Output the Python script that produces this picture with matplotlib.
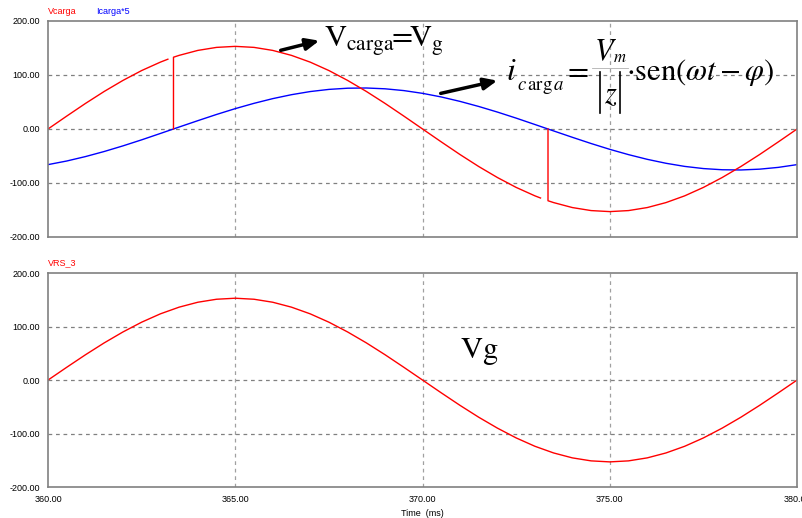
import numpy as np
import matplotlib
matplotlib.use("Agg")
import matplotlib.pyplot as plt
from matplotlib.lines import Line2D

plt.rcParams['font.family'] = ['Liberation Sans', 'DejaVu Sans']
plt.rcParams['mathtext.fontset'] = 'stix'

# tiempo (ms), paso de 0.5 ms
t = [360.0 + 0.5 * k for k in range(41)]

# tension de red Vg (VRS_3)
vg = [0.0, 23.9, 47.3, 69.5, 89.9, 108.2, 123.8, 136.3, 145.5, 151.1, 153.0,
      151.1, 145.5, 136.3, 123.8, 108.2, 89.9, 69.5, 47.3, 23.9, 0.0,
      -23.9, -47.3, -69.5, -89.9, -108.2, -123.8, -136.3, -145.5, -151.1, -153.0,
      -151.1, -145.5, -136.3, -123.8, -108.2, -89.9, -69.5, -47.3, -23.9, 0.0]

# corriente de carga * 5
icarga = [-66.0, -59.3, -51.1, -41.7, -31.3, -20.1, -8.3, 3.6, 15.4, 26.9, 37.7,
          47.5, 56.2, 63.5, 69.3, 73.3, 75.5, 75.9, 74.4, 71.1, 66.0,
          59.3, 51.1, 41.7, 31.3, 20.1, 8.3, -3.6, -15.4, -26.9, -37.7,
          -47.5, -56.2, -63.5, -69.3, -73.3, -75.5, -75.9, -74.4, -71.1, -66.0]

# tension de carga: sigue a Vg con cortes en el paso por cero de la corriente
t_carga = ([360.0 + 0.5 * k for k in range(7)] + [363.2, np.nan, 363.35, 363.35]
           + [363.5 + 0.5 * k for k in range(20)] + [373.15, np.nan, 373.35, 373.35]
           + [373.5 + 0.5 * k for k in range(14)])
vcarga = ([0.0, 23.9, 47.3, 69.5, 89.9, 108.2, 123.8, 129.2, np.nan, 0.0, 132.9]
          + [136.3, 145.5, 151.1, 153.0, 151.1, 145.5, 136.3, 123.8, 108.2, 89.9,
             69.5, 47.3, 23.9, 0.0, -23.9, -47.3, -69.5, -89.9, -108.2, -123.8]
          + [-127.8, np.nan, 0.0, -132.9]
          + [-136.3, -145.5, -151.1, -153.0, -151.1, -145.5, -136.3, -123.8,
             -108.2, -89.9, -69.5, -47.3, -23.9, 0.0])

yticks = [-200, -100, 0, 100, 200]
xticks = [360, 365, 370, 375, 380]

W, H = 803, 518

fig = plt.figure(figsize=(8.03, 5.18), dpi=100)
ax1 = fig.add_axes([0.0598, 0.5425, 0.9328, 0.417])
ax2 = fig.add_axes([0.0598, 0.0598, 0.9328, 0.413])

for ax in (ax1, ax2):
    ax.set_xlim(360, 380)
    ax.set_ylim(-200, 200)
    ax.set_xticks(xticks)
    ax.set_yticks(yticks)
    ax.set_yticklabels(["%.2f" % v for v in yticks], fontsize=6.5)
    ax.tick_params(length=0, pad=6)
    for s in ax.spines.values():
        s.set_color("#808080")
        s.set_linewidth(1.2)
    for y in [-100, 0, 100]:
        ax.axhline(y, color="#808080", lw=0.9, ls=(0, (3, 3)), zorder=0)
    for x in [365, 370, 375]:
        ax.axvline(x, color="#a0a0a0", lw=0.9, ls=(0, (3, 3)), zorder=0)

ax1.set_xticklabels([])
ax2.set_xticklabels(["%.2f" % v for v in xticks], fontsize=6.5)
ax2.set_xlabel("Time  (ms)", fontsize=6.5, labelpad=3)

ax1.plot(t, icarga, color="blue", lw=1)
ax1.plot(t_carga, vcarga, color="red", lw=1)
ax2.plot(t, vg, color="red", lw=1)

fig.text(48 / W, 1 - 12 / H, "Vcarga", color="red", fontsize=6.5, va="center")
fig.text(96 / W, 1 - 12 / H, "Icarga*5", color="blue", fontsize=6.5, va="center")
fig.text(48 / W, 1 - 263 / H, "VRS_3", color="red", fontsize=6.5, va="center")


def txt(x, y, s, size):
    # texto en coordenadas de pixel (origen arriba a la izquierda), y = linea base
    fig.text(x / W, 1 - y / H, s, fontsize=size, ha="left", va="baseline")


def raya(x0, y0, x1, y1, lw, color="black"):
    fig.add_artist(Line2D([x0 / W, x1 / W], [1 - y0 / H, 1 - y1 / H],
                          transform=fig.transFigure, color=color, lw=lw))


def flecha(x0, y0, x1, y1):
    ax1.annotate("", xy=(x1 / W, 1 - y1 / H), xytext=(x0 / W, 1 - y0 / H),
                 xycoords="figure fraction", textcoords="figure fraction",
                 arrowprops=dict(arrowstyle="-|>,head_length=0.8,head_width=0.35",
                                 color="black", lw=2.5))


# Vcarga = Vg
txt(324, 47, r"$\mathrm{V_{carga}\!\!=\!\!V_{g}}$", 22)
flecha(278, 51, 322, 40)

# icarga = Vm/|z| sen(wt - phi)
txt(506, 80, r"$i$", 23)
txt(517, 90, r"$c\,\mathrm{arg}\,a$", 13.5)
txt(563, 79, r"$=$", 22)
txt(594, 60, r"$V$", 22)
txt(613, 62, r"$m$", 12)
raya(592, 68, 628, 68, 0.6, "#b0b0b0")
raya(600, 72, 600, 113, 1.2)
raya(620, 72, 620, 113, 1.2)
txt(604, 103, r"$z$", 22)
txt(626, 80, r"$\cdot\mathrm{sen}(\omega t-\varphi)$", 22)
flecha(438, 94, 500, 80)

txt(460, 358, r"$\mathrm{Vg}$", 22)

fig.savefig("out.png", dpi=100)
